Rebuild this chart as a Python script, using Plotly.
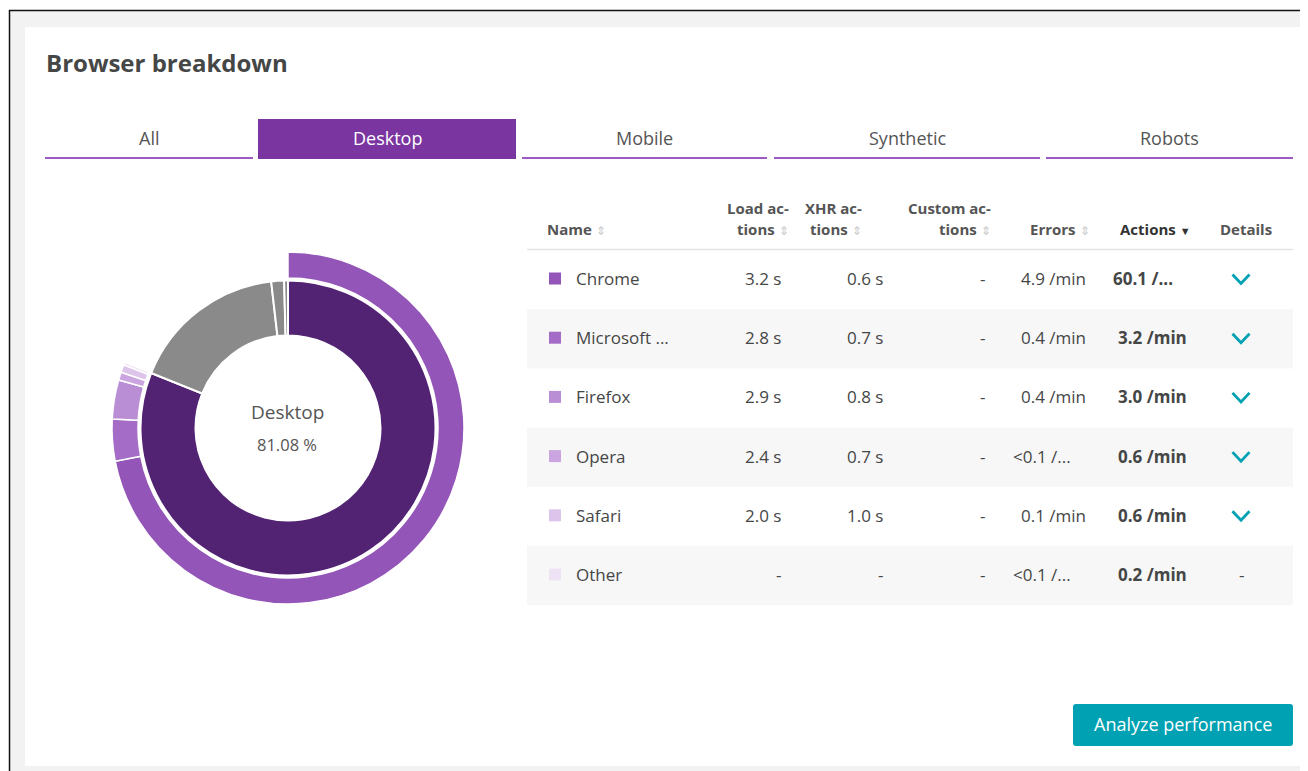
import plotly.graph_objects as go

# page geometry: the figure div starts 8px in from the page's top-left corner
PAGE_W, PAGE_H = 1308, 771
OFF = 8
W, H = PAGE_W - OFF, PAGE_H - OFF

# ---------------- data ----------------
segments = ["Desktop", "Mobile", "Synthetic", "Robots"]
segment_share = [81.08, 17.1, 1.4, 0.42]
segment_colors = ["#522273", "#8a8a8a", "#8a8a8a", "#8a8a8a"]

tabs = ["All", "Desktop", "Mobile", "Synthetic", "Robots"]
active_tab = "Desktop"

browsers = ["Chrome", "Microsoft ...", "Firefox", "Opera", "Safari", "Other"]
actions_per_min = [60.1, 3.2, 3.0, 0.6, 0.6, 0.2]
browser_colors = ["#9355b7", "#a46cc6", "#b98ed4", "#caa5df", "#dcc4ea", "#eee3f5"]

load_actions = ["3.2 s", "2.8 s", "2.9 s", "2.4 s", "2.0 s", "-"]
xhr_actions = ["0.6 s", "0.7 s", "0.8 s", "0.7 s", "1.0 s", "-"]
custom_actions = ["-", "-", "-", "-", "-", "-"]
errors = ["4.9 /min", "0.4 /min", "0.4 /min", "<0.1 /...", "0.1 /min", "<0.1 /..."]
actions_text = ["60.1 /...", "3.2 /min", "3.0 /min", "0.6 /min", "0.6 /min", "0.2 /min"]
has_details = [True, True, True, True, True, False]

FONT = "Open Sans, Noto Sans, sans-serif"
TXT = "#454646"
PURPLE = "#7b35a0"
TAB_LINE = "#9b5bc0"
TEAL = "#00a1b2"

# ---------------- donut ----------------
cx, cy = 288, 428
r_in_outer, r_in_hole = 147.5, 92.5
r_out_outer, r_out_hole = 176, 150


def dom(r):
    x0, x1 = cx - r - OFF, cx + r - OFF
    y0, y1 = cy - r - OFF, cy + r - OFF
    return dict(x=[x0 / W, x1 / W], y=[1 - y1 / H, 1 - y0 / H])


desk = segment_share[segments.index("Desktop")]
tot_act = sum(actions_per_min)
outer_vals = [a / tot_act * desk for a in actions_per_min] + [100 - desk]
outer_cols = browser_colors + ["rgba(0,0,0,0)"]

fig = go.Figure()
fig.add_trace(go.Pie(
    labels=segments, values=segment_share, hole=r_in_hole / r_in_outer,
    domain=dom(r_in_outer), sort=False, direction="clockwise", rotation=0,
    marker=dict(colors=segment_colors, line=dict(color="white", width=2)),
    textinfo="none", hoverinfo="skip", showlegend=False))
fig.add_trace(go.Pie(
    labels=browsers + ["rest"], values=outer_vals, hole=r_out_hole / r_out_outer,
    domain=dom(r_out_outer), sort=False, direction="clockwise", rotation=0,
    marker=dict(colors=outer_cols, line=dict(color="white", width=[1.5] * len(browsers) + [0])),
    textinfo="none", hoverinfo="skip", showlegend=False))

shapes = []
ann = []


def text(x, y, s, size=17, color=TXT, anchor="left", bold=False):
    if anchor == "left":
        x -= 2
    elif anchor == "right":
        x += 2
    ann.append(dict(x=x, y=y, xref="x", yref="y", text=("<b>%s</b>" % s) if bold else s,
                    showarrow=False, xanchor=anchor, yanchor="middle",
                    font=dict(family=FONT, size=size, color=color)))


# background + card
shapes.append(dict(type="rect", xref="x", yref="y", x0=9.5, y0=10.5, x1=1330, y1=800,
                   fillcolor="#f2f2f2", line=dict(color="#111111", width=1.5), layer="below"))
shapes.append(dict(type="rect", xref="x", yref="y", x0=25, y0=27, x1=1330, y1=766,
                   fillcolor="white", line=dict(width=0), layer="below"))

# title
text(46, 62, "Browser breakdown", size=24, bold=True)

# tabs
tab_x = [(45, 253), (258, 516), (522, 767), (774, 1040), (1046, 1293)]
for name, (a, b) in zip(tabs, tab_x):
    if name == active_tab:
        shapes.append(dict(type="rect", xref="x", yref="y", x0=a, y0=119, x1=b, y1=159,
                           fillcolor=PURPLE, line=dict(width=0), layer="below"))
        text((a + b) / 2, 138, name, size=18, color="white", anchor="center")
    else:
        shapes.append(dict(type="line", xref="x", yref="y", x0=a, y0=158, x1=b, y1=158,
                           line=dict(color=TAB_LINE, width=2), layer="below"))
        text((a + b) / 2, 138, name, size=18, color="#555555", anchor="center")

# donut centre text
text(cx - 1, 412, "Desktop", size=19, color="#555555", anchor="center")
text(cx - 1, 444, "81.08 %", size=16.5, color="#555555", anchor="center")

# table header
SORT = "<span style='color:#c8c8c8;font-size:12px'>&#8661;</span>"
HC = "#555555"
HS = 15
ann.append(dict(x=545, y=229, xref="x", yref="y", text="<b>Name</b> " + SORT, showarrow=False,
                xanchor="left", yanchor="middle", font=dict(family=FONT, size=HS, color=HC)))
headers = [("Load ac-", "tions", 789), ("XHR ac-", "tions", 862), ("Custom ac-", "tions", 991)]
for l1, l2, xr in headers:
    ann.append(dict(x=xr + 2, y=208, xref="x", yref="y", text="<b>%s</b>" % l1, showarrow=False,
                    xanchor="right", yanchor="middle", font=dict(family=FONT, size=HS, color=HC)))
    ann.append(dict(x=xr + 2, y=229, xref="x", yref="y", text="<b>%s</b> %s" % (l2, SORT), showarrow=False,
                    xanchor="right", yanchor="middle", font=dict(family=FONT, size=HS, color=HC)))
ann.append(dict(x=1092, y=229, xref="x", yref="y", text="<b>Errors</b> " + SORT, showarrow=False,
                xanchor="right", yanchor="middle", font=dict(family=FONT, size=HS, color=HC)))
ann.append(dict(x=1193, y=229, xref="x", yref="y",
                text="<b>Actions</b> <span style='font-size:11px'>&#9660;</span>", showarrow=False,
                xanchor="right", yanchor="middle", font=dict(family=FONT, size=HS, color="#333333")))
ann.append(dict(x=1274, y=229, xref="x", yref="y", text="<b>Details</b>", showarrow=False,
                xanchor="right", yanchor="middle", font=dict(family=FONT, size=HS, color=HC)))
shapes.append(dict(type="line", xref="x", yref="y", x0=527, y0=249.5, x1=1293, y1=249.5,
                   line=dict(color="#e4e4e4", width=1.5), layer="below"))

# table rows
ROW_H = 59.2
for i, name in enumerate(browsers):
    top = 250 + i * ROW_H
    yc = top + 28.5
    if i % 2 == 1:
        shapes.append(dict(type="rect", xref="x", yref="y", x0=527, y0=top, x1=1293, y1=top + ROW_H,
                           fillcolor="#f7f7f7", line=dict(width=0), layer="below"))
    shapes.append(dict(type="rect", xref="x", yref="y", x0=549, y0=yc - 6, x1=561, y1=yc + 6,
                       fillcolor=browser_colors[i], line=dict(width=0), layer="below"))
    text(576, yc, name)
    text(781, yc, load_actions[i], anchor="right")
    text(883, yc, xhr_actions[i], anchor="right")
    text(985, yc, custom_actions[i], anchor="right")
    if errors[i].endswith("..."):
        text(1013, yc, errors[i], anchor="left")
    else:
        text(1086, yc, errors[i], anchor="right")
    if actions_text[i].endswith("..."):
        text(1113, yc, actions_text[i], anchor="left", bold=True)
    else:
        text(1187, yc, actions_text[i], anchor="right", bold=True)
    if has_details[i]:
        shapes.append(dict(type="path", xref="x", yref="y",
                           path="M 1232.5 %.1f L 1241 %.1f L 1249.5 %.1f" % (yc - 4, yc + 5, yc - 4),
                           line=dict(color=TEAL, width=2.8)))
    else:
        text(1241, yc, "-", anchor="center")

# button
bx0, bx1, by0, by1, rr = 1073, 1293, 704, 746, 3
shapes.append(dict(type="path", xref="x", yref="y",
                   path=("M %d %d L %d %d Q %d %d %d %d L %d %d Q %d %d %d %d L %d %d Q %d %d %d %d "
                         "L %d %d Q %d %d %d %d Z") % (
                       bx0 + rr, by0, bx1 - rr, by0, bx1, by0, bx1, by0 + rr,
                       bx1, by1 - rr, bx1, by1, bx1 - rr, by1,
                       bx0 + rr, by1, bx0, by1, bx0, by1 - rr,
                       bx0, by0 + rr, bx0, by0, bx0 + rr, by0),
                   fillcolor=TEAL, line=dict(width=0), layer="below"))
text((bx0 + bx1) / 2, 724, "Analyze performance", size=18, color="white", anchor="center")

fig.update_layout(
    width=W, height=H, margin=dict(l=0, r=0, t=0, b=0),
    paper_bgcolor="white", plot_bgcolor="rgba(0,0,0,0)",
    xaxis=dict(range=[OFF, PAGE_W], visible=False, fixedrange=True, domain=[0, 1]),
    yaxis=dict(range=[PAGE_H, OFF], visible=False, fixedrange=True, domain=[0, 1]),
    shapes=shapes, annotations=ann, showlegend=False,
)
fig.write_html("out.html")
